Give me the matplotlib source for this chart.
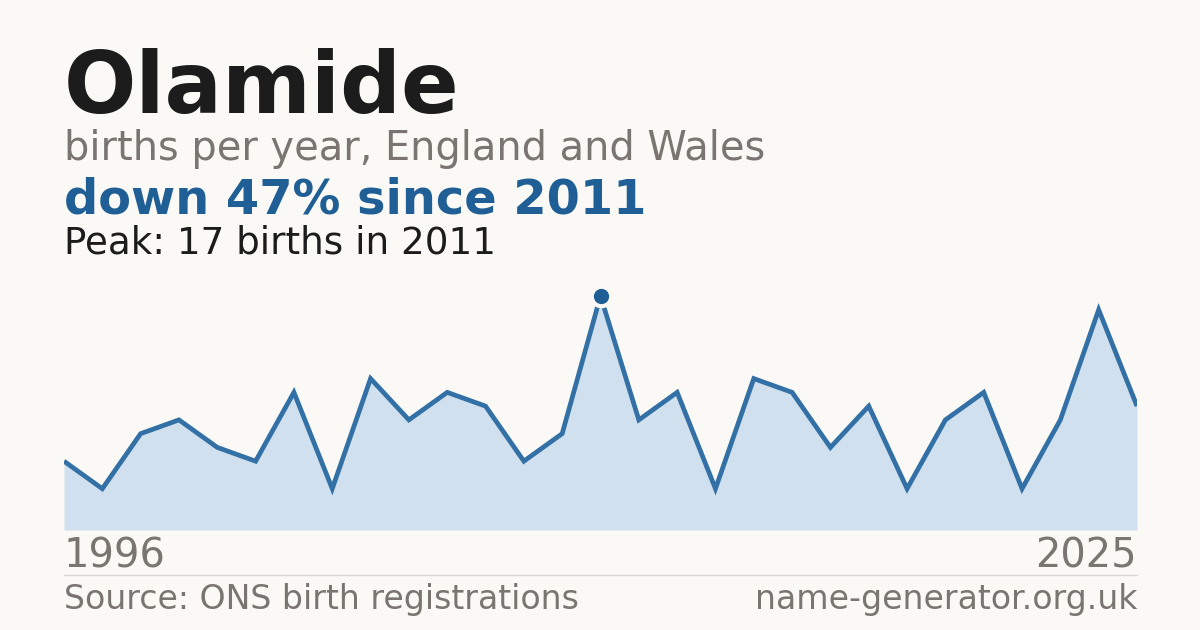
import matplotlib
matplotlib.use("Agg")
import matplotlib.pyplot as plt
import numpy as np

plt.rcParams["font.family"] = ["DejaVu Sans"]

# ---- data ----
name = "Olamide"
subtitle = "births per year, England and Wales"
headline = "down 47% since 2011"
peak_text = "Peak: 17 births in 2011"
first_year_label = "1996"
last_year_label = "2025"
source_text = "Source: ONS birth registrations"
site_text = "name-generator.org.uk"
births = [5, 3, 7, 8, 6, 5, 10, 3, 11, 8, 10, 9, 5, 7, 17, 8, 10, 3, 11, 10,
          6, 9, 3, 8, 10, 3, 8, 16, 9]
peak_index = 14

BG = "#faf9f5"
DARK = "#1c1c1c"
GREY = "#7a7570"
BLUE = "#1f5f96"
LINE = "#3270a6"
FILL = "#d0e0ef"

W, H = 1200, 630
fig = plt.figure(figsize=(W / 100, H / 100), dpi=100, facecolor=BG)

def fy(px):
    return 1 - px / H

def fx(px):
    return px / W

# chart axes
left, right, top, bottom = 64, 1137, 296, 530
ax = fig.add_axes([fx(left), fy(bottom), (right - left) / W, (bottom - top) / H])
ax.set_facecolor(BG)
x = np.arange(len(births))
ax.fill_between(x, 0, births, color=FILL, linewidth=0)
ax.plot(x, births, color=LINE, lw=3.4, solid_joinstyle="miter", solid_capstyle="butt")
ax.plot([x[peak_index]], [births[peak_index]], marker="o", ms=16, color=BG,
        mec=BG, clip_on=False, zorder=5)
ax.plot([x[peak_index]], [births[peak_index]], marker="o", ms=11, color=BLUE,
        mec=BLUE, mew=0, clip_on=False, zorder=6)
ax.set_xlim(0, len(births) - 1)
ax.set_ylim(0, max(births))
ax.axis("off")

# texts
fig.text(fx(64), fy(113), name, fontsize=61.4, fontweight="bold", color=DARK,
         va="baseline", ha="left")
fig.text(fx(64), fy(160), subtitle, fontsize=28.7, color=GREY, va="baseline", ha="left")
fig.text(fx(64), fy(214), headline, fontsize=34.5, fontweight="bold", color=BLUE,
         va="baseline", ha="left")
fig.text(fx(64), fy(254), peak_text, fontsize=26.8, color=DARK, va="baseline", ha="left")

fig.text(fx(64), fy(568), first_year_label, fontsize=28.8, color=GREY, va="baseline", ha="left")
fig.text(fx(1137), fy(568), last_year_label, fontsize=28.8, color=GREY, va="baseline", ha="right")

fig.add_artist(plt.Line2D([fx(64), fx(1137)], [fy(574.5), fy(574.5)], color="#dddad4", lw=1))

fig.text(fx(64), fy(609), source_text, fontsize=23.9, color=GREY, va="baseline", ha="left")
fig.text(fx(1137), fy(609), site_text, fontsize=23.9, color=GREY, va="baseline", ha="right")

fig.savefig("out.png", dpi=100, facecolor=BG)
